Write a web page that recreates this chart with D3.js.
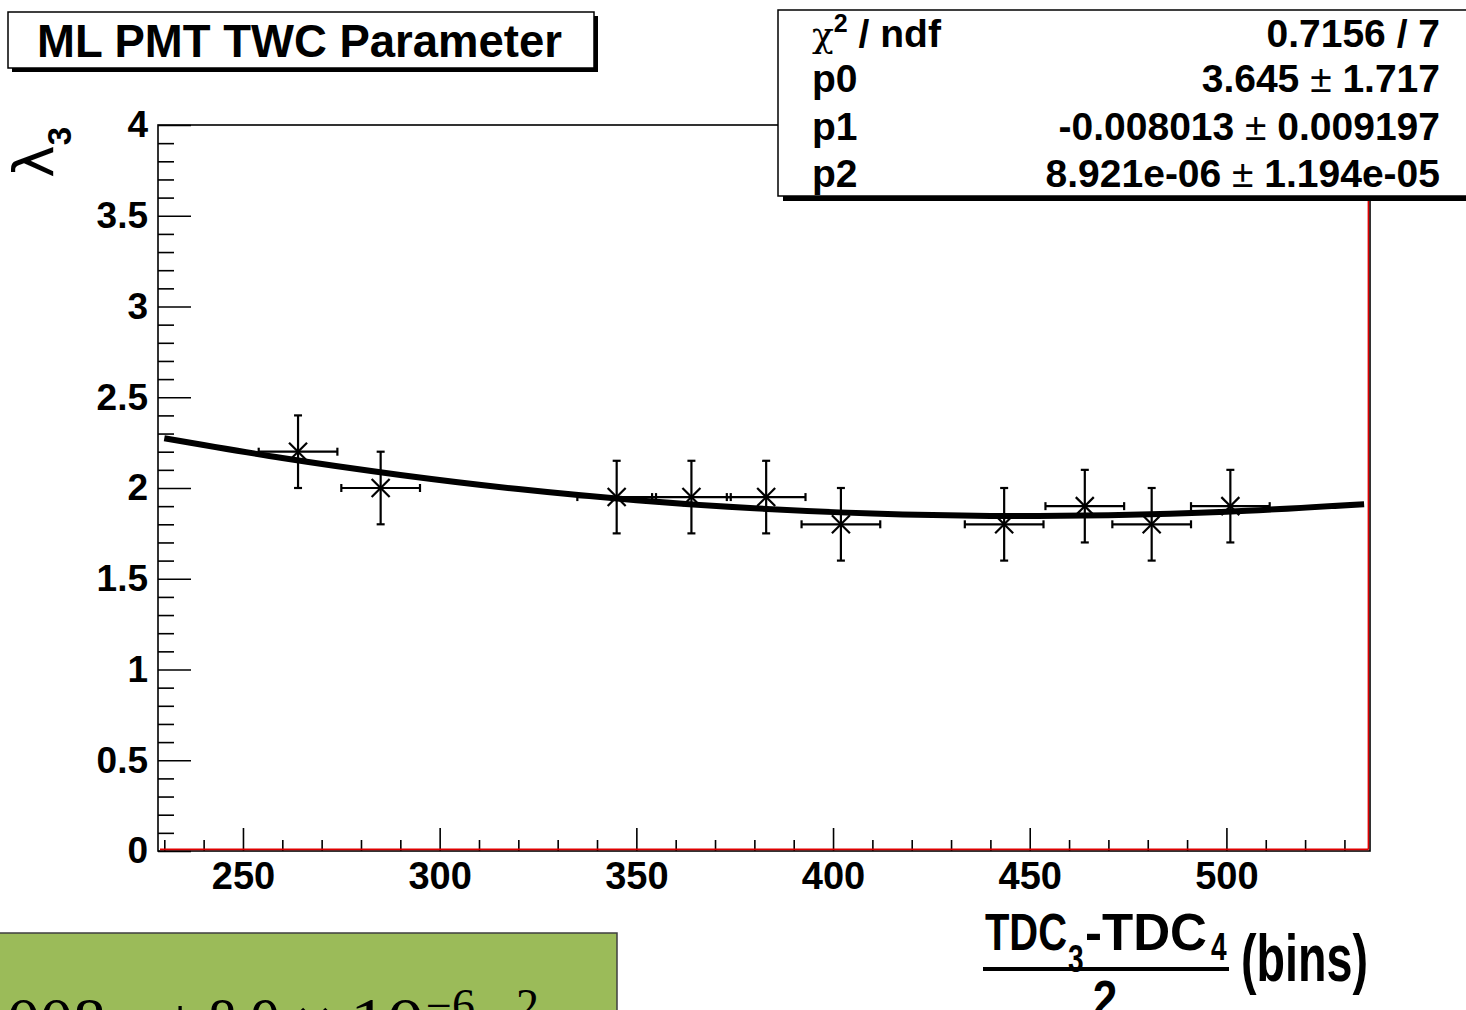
<!DOCTYPE html>
<html><head><meta charset="utf-8">
<script src="https://cdn.jsdelivr.net/npm/d3@7"></script>
<style>body{margin:0;background:#fff;overflow:hidden} svg{display:block}</style>
</head><body>
<script>
// ---- data ----
const xValues = [264, 285, 345, 364, 383, 402, 443.5, 464, 481, 501];
const yValues = [2.2, 2.0, 1.95, 1.95, 1.95, 1.8, 1.8, 1.9, 1.8, 1.9];
const xErrors = [10, 10, 10, 10, 10, 10, 10, 10, 10, 10];
const yErrors = [0.2, 0.2, 0.2, 0.2, 0.2, 0.2, 0.2, 0.2, 0.2, 0.2];
// fitted curve as seen in the picture
const fitX = [230, 260, 290, 320, 350, 380, 410, 440, 470, 500, 535];
const fitY = [2.274, 2.165, 2.072, 1.994, 1.933, 1.888, 1.859, 1.846, 1.850, 1.869, 1.911];
const yMajorTicks = [0, 0.5, 1, 1.5, 2, 2.5, 3, 3.5, 4];
const yTickLabels = ["0", "0.5", "1", "1.5", "2", "2.5", "3", "3.5", "4"];
const xMajorTicks = [250, 300, 350, 400, 450, 500];
const xTickLabels = ["250", "300", "350", "400", "450", "500"];
const statLabels = ["p0", "p1", "p2"];
const statValues = ["3.645", "-0.008013", "8.921e-06"];
const statErrors = ["1.717", "0.009197", "1.194e-05"];
const chi2Text = "0.7156 / 7";
const titleText = "ML PMT TWC Parameter";

const W = 1466, H = 1010;
const L = 158, R = 1370, T = 125, B = 851;
const SANS = "'Liberation Sans', Arial, Helvetica, sans-serif";

const svg = d3.select("body").append("svg").attr("width", W).attr("height", H)
  .style("font-family", SANS);

const x = d3.scaleLinear().domain([228.4, 536.5]).range([L, R]);
const y = d3.scaleLinear().domain([0, 4]).range([B, T]);

// minor ticks
const yMinor = d3.range(0, 41).map(i => i / 10).filter(v => !yMajorTicks.some(m => Math.abs(m - v) < 1e-9));
const xMinor = d3.range(230, 540, 10).filter(v => !xMajorTicks.includes(v));

// y axis
const yAxis = d3.axisLeft(y).tickValues(yMajorTicks)
  .tickFormat((d, i) => yTickLabels[i]).tickSize(-33).tickPadding(10);
const gy = svg.append("g").attr("transform", `translate(${L},0)`).call(yAxis);
gy.select(".domain").remove();
gy.selectAll("line").attr("stroke", "#000").attr("stroke-width", 1.6);
gy.selectAll("text").attr("font-size", 37).attr("font-weight", "bold").attr("fill", "#000")
  .attr("font-family", SANS);
const gym = svg.append("g").attr("transform", `translate(${L},0)`)
  .call(d3.axisLeft(y).tickValues(yMinor).tickFormat("").tickSize(-16));
gym.select(".domain").remove();
gym.selectAll("line").attr("stroke", "#000").attr("stroke-width", 1.6);

// x axis
const xAxis = d3.axisBottom(x).tickValues(xMajorTicks)
  .tickFormat((d, i) => xTickLabels[i]).tickSize(-23).tickPadding(11);
const gx = svg.append("g").attr("transform", `translate(0,${B})`).call(xAxis);
gx.select(".domain").remove();
gx.selectAll("line").attr("stroke", "#000").attr("stroke-width", 1.6);
gx.selectAll("text").attr("font-size", 38).attr("font-weight", "bold").attr("fill", "#000")
  .attr("font-family", SANS);
const gxm = svg.append("g").attr("transform", `translate(0,${B})`)
  .call(d3.axisBottom(x).tickValues(xMinor).tickFormat("").tickSize(-11));
gxm.select(".domain").remove();
gxm.selectAll("line").attr("stroke", "#000").attr("stroke-width", 1.6);

// frame
svg.append("rect").attr("x", L).attr("y", T).attr("width", R - L).attr("height", B - T)
  .attr("fill", "none").attr("stroke", "#000").attr("stroke-width", 1.6);
svg.append("line").attr("x1", L + 2).attr("x2", R - 1.5).attr("y1", B - 1.6).attr("y2", B - 1.6)
  .attr("stroke", "#e00000").attr("stroke-width", 1.6);
svg.append("line").attr("x1", R - 1.6).attr("x2", R - 1.6).attr("y1", T).attr("y2", B - 1.6)
  .attr("stroke", "#e00000").attr("stroke-width", 1.6);

// data points with error bars
const pts = xValues.map((v, i) => ({ x: v, y: yValues[i], ex: xErrors[i], ey: yErrors[i] }));
const gp = svg.append("g").attr("stroke", "#000").attr("stroke-width", 2.2).attr("fill", "none");
pts.forEach(p => {
  const cx = x(p.x), cy = y(p.y);
  const x1 = x(p.x - p.ex), x2 = x(p.x + p.ex);
  const y1 = y(p.y + p.ey), y2 = y(p.y - p.ey);
  const g = gp.append("g");
  g.append("line").attr("x1", x1).attr("x2", x2).attr("y1", cy).attr("y2", cy);
  g.append("line").attr("x1", x1).attr("x2", x1).attr("y1", cy - 4).attr("y2", cy + 4);
  g.append("line").attr("x1", x2).attr("x2", x2).attr("y1", cy - 4).attr("y2", cy + 4);
  g.append("line").attr("x1", cx).attr("x2", cx).attr("y1", y1).attr("y2", y2);
  g.append("line").attr("x1", cx - 4).attr("x2", cx + 4).attr("y1", y1).attr("y2", y1);
  g.append("line").attr("x1", cx - 4).attr("x2", cx + 4).attr("y1", y2).attr("y2", y2);
  const m = 9;
  g.append("line").attr("x1", cx - m).attr("x2", cx + m).attr("y1", cy - m).attr("y2", cy + m);
  g.append("line").attr("x1", cx - m).attr("x2", cx + m).attr("y1", cy + m).attr("y2", cy - m);
});

// fit curve
const line = d3.line().x(d => x(d[0])).y(d => y(d[1])).curve(d3.curveNatural);
svg.append("path").datum(fitX.map((v, i) => [v, fitY[i]])).attr("d", line)
  .attr("fill", "none").attr("stroke", "#000").attr("stroke-width", 6);

// y title  λ3
const yt = svg.append("text").attr("transform", "translate(53,127) rotate(-90)")
  .attr("text-anchor", "end").attr("fill", "#000");
yt.append("tspan").text("λ").attr("font-size", 55).attr("font-family", "'DejaVu Sans', sans-serif");
yt.append("tspan").text("3").attr("font-size", 33).attr("font-weight", "bold").attr("dy", 18)
  .attr("font-family", SANS);

// x title
const xt = svg.append("g").attr("fill", "#000").attr("font-weight", "bold");
xt.append("text").attr("x", 985).attr("y", 950).attr("font-size", 52).attr("textLength", 82)
  .attr("lengthAdjust", "spacingAndGlyphs").text("TDC");
xt.append("text").attr("transform", "translate(1068,972) scale(0.72,1)").attr("font-size", 39).text("3");
xt.append("text").attr("x", 1085).attr("y", 950).attr("font-size", 52).attr("textLength", 122)
  .attr("lengthAdjust", "spacingAndGlyphs").text("-TDC");
xt.append("text").attr("transform", "translate(1211,960) scale(0.72,1)").attr("font-size", 39).text("4");
xt.append("line").attr("x1", 983).attr("x2", 1229).attr("y1", 969).attr("y2", 969)
  .attr("stroke", "#000").attr("stroke-width", 4);
xt.append("text").attr("transform", "translate(1105,1017) scale(0.85,1)").attr("text-anchor", "middle")
  .attr("font-size", 52).text("2");
xt.append("text").attr("x", 1241).attr("y", 981).attr("font-size", 66).attr("textLength", 127)
  .attr("lengthAdjust", "spacingAndGlyphs").text("(bins)");

// title box
svg.append("rect").attr("x", 12).attr("y", 16).attr("width", 586).attr("height", 56).attr("fill", "#000");
svg.append("rect").attr("x", 8).attr("y", 12).attr("width", 586).attr("height", 56)
  .attr("fill", "#fff").attr("stroke", "#000").attr("stroke-width", 1.5);
svg.append("text").attr("x", 37).attr("y", 57).attr("font-size", 45.5).attr("font-weight", "bold")
  .attr("fill", "#000").text(titleText);

// stats box
svg.append("rect").attr("x", 783).attr("y", 15).attr("width", 700).attr("height", 186).attr("fill", "#000");
svg.append("rect").attr("x", 778).attr("y", 10).attr("width", 700).attr("height", 186)
  .attr("fill", "#fff").attr("stroke", "#000").attr("stroke-width", 1.5);
const st = svg.append("g").attr("font-size", 39).attr("font-weight", "bold").attr("fill", "#000");
const rowY = [47, 92, 140, 187];
const c0 = st.append("text").attr("x", 812).attr("y", rowY[0]);
c0.append("tspan").text("χ").attr("font-weight", "normal").attr("font-family", "'DejaVu Serif', serif").attr("font-size", 36);
c0.append("tspan").text("2").attr("font-size", 25).attr("dy", -15);
c0.append("tspan").text(" / ndf").attr("dy", 15);
st.append("text").attr("x", 1440).attr("y", rowY[0]).attr("text-anchor", "end").text(chi2Text);
statLabels.forEach((lab, i) => {
  st.append("text").attr("x", 812).attr("y", rowY[i + 1]).text(lab);
  const t = st.append("text").attr("x", 1440).attr("y", rowY[i + 1]).attr("text-anchor", "end");
  t.append("tspan").text(statValues[i] + " ");
  t.append("tspan").text("±").attr("font-weight", "normal");
  t.append("tspan").text(" " + statErrors[i]);
});

// green equation box (bottom left, cut by the page edge)
svg.append("rect").attr("x", -3).attr("y", 933).attr("width", 620).attr("height", 90)
  .attr("fill", "#9BBB59").attr("stroke", "#3f3f3f").attr("stroke-width", 1.5);
const eq = svg.append("g").attr("font-family", "'Liberation Serif', 'DejaVu Serif', serif")
  .attr("fill", "#000").attr("font-size", 66);
eq.append("text").attr("x", 106).attr("y", 1043).attr("text-anchor", "end").text("3.6 − 0.008");
eq.append("text").attr("x", 112).attr("y", 1043).attr("font-style", "italic").text("x");
eq.append("text").attr("x", 180).attr("y", 1043).attr("text-anchor", "middle").text("+");
eq.append("text").attr("x", 208).attr("y", 1043).attr("textLength", 72).attr("lengthAdjust", "spacingAndGlyphs").text("8.9");
eq.append("text").attr("x", 314).attr("y", 1043).attr("text-anchor", "middle").text("×");
eq.append("text").attr("x", 350).attr("y", 1043).attr("textLength", 74).attr("lengthAdjust", "spacingAndGlyphs").text("10");
eq.append("text").attr("x", 426).attr("y", 1021).attr("font-size", 46).text("−6");
eq.append("text").attr("x", 488).attr("y", 1043).attr("font-style", "italic").text("x");
eq.append("text").attr("x", 516).attr("y", 1021).attr("font-size", 46).text("2");
</script>
</body></html>
